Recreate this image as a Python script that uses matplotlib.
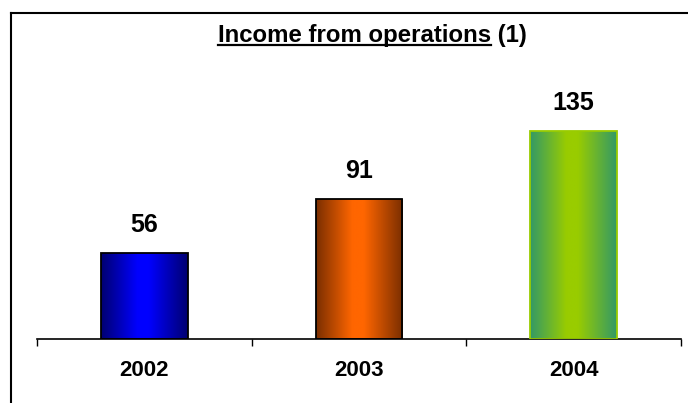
import numpy as np
import matplotlib
matplotlib.use('Agg')
import matplotlib.pyplot as plt
from matplotlib.colors import LinearSegmentedColormap
from matplotlib.lines import Line2D

plt.rcParams['font.family'] = ['Liberation Sans', 'DejaVu Sans']

years = ['2002', '2003', '2004']
income = [56, 91, 135]

# edge / centre colours of each bar's horizontal shading
shade_edges = ['#000070', '#7a2e00', '#339966']
shade_centres = ['#0000ff', '#ff6600', '#99cc00']
outline = ['black', 'black', '#99cc00']

BAR_WIDTH = 0.405


def shaded_bar(ax, x, h, edge_col, centre_col, line_col):
    bar = ax.bar(x, h, width=BAR_WIDTH, facecolor='none',
                 edgecolor=line_col, linewidth=1.3, zorder=3)[0]
    cmap = LinearSegmentedColormap.from_list(
        'shade', [(0.0, edge_col), (0.42, centre_col), (0.55, centre_col), (1.0, edge_col)])
    grad = np.linspace(0, 1, 256).reshape(1, -1)
    img = ax.imshow(grad, cmap=cmap, aspect='auto', zorder=2,
                    extent=(x - BAR_WIDTH / 2, x + BAR_WIDTH / 2, 0, h))
    img.set_clip_path(bar)
    return bar


fig = plt.figure(figsize=(6.88, 4.03), dpi=100)
W, H = 688, 403
ax = fig.add_axes([37 / W, (H - 339) / H, (681 - 37) / W, (339 - 45) / H])

xs = np.arange(len(years))
for i, v in enumerate(income):
    shaded_bar(ax, xs[i], v, shade_edges[i], shade_centres[i], outline[i])
    ax.text(xs[i], v + 10.5, str(v), ha='center', va='bottom',
            fontsize=18, fontweight='bold')

ax.set_xlim(-0.5, len(years) - 0.5)
ax.set_ylim(0, 191)

for side in ['top', 'right', 'left']:
    ax.spines[side].set_visible(False)
ax.spines['bottom'].set_linewidth(1.2)
ax.set_yticks([])

ax.set_xticks(xs)
ax.set_xticklabels(years, fontsize=16, fontweight='bold')
ax.tick_params(axis='x', which='major', length=0, pad=15)
ax.set_xticks(np.arange(-0.5, len(years)), minor=True)
ax.tick_params(axis='x', which='minor', length=5, width=1.0, direction='out')

# title: underlined part + plain footnote marker
base_y = 1 - 42 / H
t1 = fig.text(218 / W, base_y, 'Income from operations', ha='left', va='baseline',
              fontsize=17.3, fontweight='bold')
fig.canvas.draw()
bb = t1.get_window_extent()
fig.text(bb.x1 / W, base_y, ' (1)', ha='left', va='baseline',
         fontsize=17.3, fontweight='bold')
fig.add_artist(Line2D([bb.x0 / W, bb.x1 / W], [1 - 45 / H] * 2,
                      color='black', linewidth=1.6))

# frame around the chart (top and left edges)
fig.add_artist(Line2D([11 / W, 1.0], [1 - 13 / H] * 2, color='black', linewidth=1.5))
fig.add_artist(Line2D([11 / W, 11 / W], [0.0, 1 - 13 / H], color='black', linewidth=1.5))

fig.savefig('out.png', dpi=100)
